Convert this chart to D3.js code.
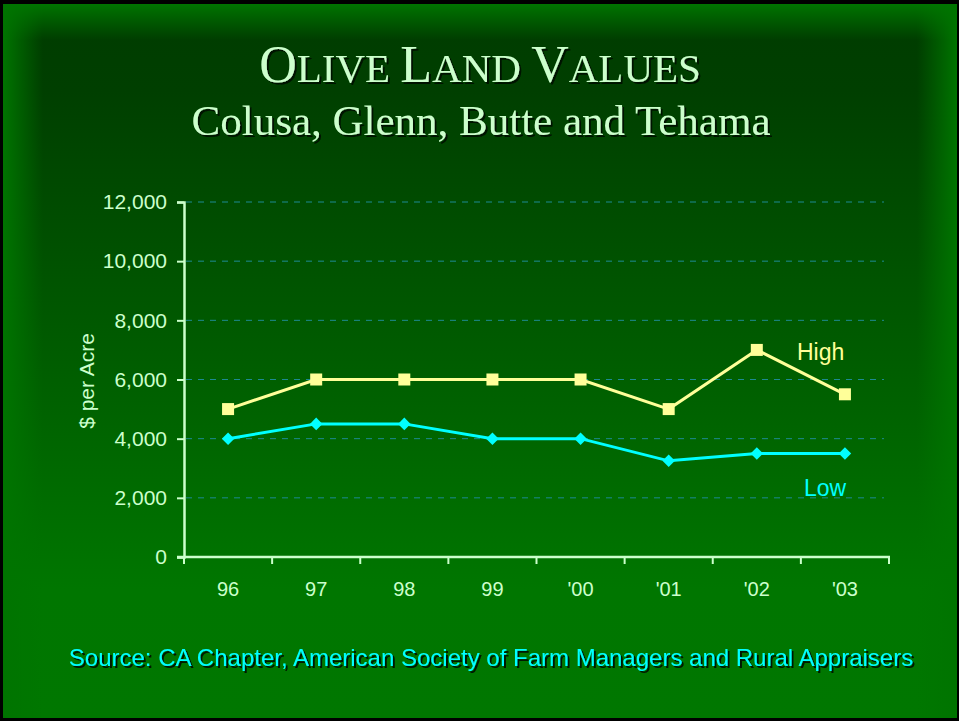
<!DOCTYPE html>
<html>
<head>
<meta charset="utf-8">
<script src="https://cdn.jsdelivr.net/npm/d3@7/dist/d3.min.js"></script>
<style>
  html, body { margin: 0; padding: 0; background: #000; }
  svg { display: block; }
</style>
</head>
<body>
<div id="graph-holder"></div>
<script>
const years = ['96', '97', '98', '99', "'00", "'01", "'02", "'03"];
const highValues = [5000, 6000, 6000, 6000, 6000, 5000, 7000, 5500];
const lowValues = [4000, 4500, 4500, 4000, 4000, 3250, 3500, 3500];
const yTicks = [0, 2000, 4000, 6000, 8000, 10000, 12000];

const svgWidth = 959,
      svgHeight = 721;

const svg = d3.select('#graph-holder')
              .append('svg')
              .attr('width', svgWidth)
              .attr('height', svgHeight);

const defs = svg.append('defs');

// background gradient, dark at the top, brighter green below
const bg = defs.append('linearGradient')
  .attr('id', 'bg').attr('x1', 0).attr('y1', 0).attr('x2', 0).attr('y2', 1);
bg.append('stop').attr('offset', '0%').attr('stop-color', '#003c00');
bg.append('stop').attr('offset', '12%').attr('stop-color', '#003f00');
bg.append('stop').attr('offset', '82%').attr('stop-color', '#007600');
bg.append('stop').attr('offset', '100%').attr('stop-color', '#007700');

function edgeGrad(id, x1, y1, x2, y2) {
  const g = defs.append('linearGradient').attr('id', id)
    .attr('x1', x1).attr('y1', y1).attr('x2', x2).attr('y2', y2);
  g.append('stop').attr('offset', '0%').attr('stop-color', '#007400').attr('stop-opacity', 1);
  g.append('stop').attr('offset', '100%').attr('stop-color', '#007400').attr('stop-opacity', 0);
}
edgeGrad('edgeL', 0, 0, 1, 0);
edgeGrad('edgeR', 1, 0, 0, 0);
edgeGrad('edgeT', 0, 0, 0, 1);

const shadow = defs.append('filter').attr('id', 'shadow')
  .attr('x', '-5%').attr('y', '-20%').attr('width', '110%').attr('height', '140%');
shadow.append('feDropShadow')
  .attr('dx', 2).attr('dy', 2).attr('stdDeviation', 0.4)
  .attr('flood-color', '#001000').attr('flood-opacity', 0.9);

svg.append('rect').attr('width', svgWidth).attr('height', svgHeight).attr('fill', '#000');
svg.append('rect').attr('x', 3).attr('y', 4).attr('width', 954).attr('height', 714).attr('fill', 'url(#bg)');
svg.append('rect').attr('x', 3).attr('y', 4).attr('width', 40).attr('height', 714).attr('fill', 'url(#edgeL)');
svg.append('rect').attr('x', 917).attr('y', 4).attr('width', 40).attr('height', 714).attr('fill', 'url(#edgeR)');
svg.append('rect').attr('x', 3).attr('y', 4).attr('width', 954).attr('height', 36).attr('fill', 'url(#edgeT)');

// Titles
const title = svg.append('text')
  .attr('x', 480).attr('y', 82)
  .attr('text-anchor', 'middle')
  .attr('font-family', '"Liberation Serif", "Times New Roman", serif')
  .attr('fill', '#ccffcc')
  .attr('filter', 'url(#shadow)');
[['O', 52], ['LIVE ', 41], ['L', 52], ['AND ', 41], ['V', 52], ['ALUES', 41]].forEach(p => {
  title.append('tspan').attr('font-size', p[1]).text(p[0]);
});

svg.append('text')
  .attr('x', 481).attr('y', 135)
  .attr('text-anchor', 'middle')
  .attr('font-family', '"Liberation Serif", "Times New Roman", serif')
  .attr('font-size', 43)
  .attr('fill', '#ccffcc')
  .attr('filter', 'url(#shadow)')
  .text('Colusa, Glenn, Butte and Tehama');

// Chart
const plotLeft = 184, plotRight = 889, plotTop = 202, plotBottom = 557;

const x = d3.scaleBand()
            .domain(years)
            .range([plotLeft, plotRight]);

const y = d3.scaleLinear()
            .domain([0, 12000])
            .range([plotBottom, plotTop]);

const axisColor = '#ccffcc';
const font = '"Liberation Sans", Arial, sans-serif';

// grid lines
svg.append('g')
  .selectAll('line')
  .data(yTicks.filter(d => d > 0))
  .enter()
  .append('line')
  .attr('x1', plotLeft + 2)
  .attr('x2', 884)
  .attr('y1', d => y(d))
  .attr('y2', d => y(d))
  .attr('stroke', '#1d8a92')
  .attr('stroke-width', 1)
  .attr('stroke-dasharray', '6,6');

// y axis
const yAxis = d3.axisLeft(y)
                .tickValues(yTicks)
                .tickSize(7)
                .tickPadding(10)
                .tickFormat(d3.format(','));

const yG = svg.append('g')
  .attr('transform', `translate(${plotLeft},0)`)
  .call(yAxis);
yG.select('.domain').attr('stroke', axisColor).attr('stroke-width', 2.5);
yG.selectAll('.tick line').attr('stroke', axisColor).attr('stroke-width', 2);
yG.selectAll('.tick text')
  .attr('fill', axisColor)
  .attr('font-family', font)
  .attr('font-size', 21);

// x axis: ticks at band boundaries
const boundaries = years.map(d => x(d)).concat([plotRight]);
svg.append('g')
  .selectAll('line')
  .data(boundaries)
  .enter()
  .append('line')
  .attr('x1', d => d).attr('x2', d => d)
  .attr('y1', plotBottom).attr('y2', plotBottom + 7)
  .attr('stroke', axisColor).attr('stroke-width', 2);

svg.append('line')
  .attr('x1', plotLeft - 7).attr('x2', plotRight + 1)
  .attr('y1', plotBottom).attr('y2', plotBottom)
  .attr('stroke', axisColor).attr('stroke-width', 2.5);

svg.append('g')
  .selectAll('text')
  .data(years)
  .enter()
  .append('text')
  .attr('x', d => x(d) + x.bandwidth() / 2)
  .attr('y', 596)
  .attr('text-anchor', 'middle')
  .attr('fill', axisColor)
  .attr('font-family', font)
  .attr('font-size', 20)
  .text(d => d);

svg.append('text')
  .attr('transform', 'translate(94,381) rotate(-90)')
  .attr('text-anchor', 'middle')
  .attr('fill', axisColor)
  .attr('font-family', font)
  .attr('font-size', 21)
  .text('$ per Acre');

// series
const cx = (d, i) => x(years[i]) + x.bandwidth() / 2;
const line = d3.line().x(cx).y(d => y(d));

const highColor = '#ffff99', lowColor = '#00ffff';

svg.append('path')
  .datum(lowValues)
  .attr('d', line)
  .attr('fill', 'none')
  .attr('stroke', lowColor)
  .attr('stroke-width', 3);

svg.append('g')
  .selectAll('path')
  .data(lowValues)
  .enter()
  .append('path')
  .attr('d', d3.symbol().type(d3.symbolDiamond2).size(100))
  .attr('transform', (d, i) => `translate(${cx(d, i)},${y(d)})`)
  .attr('fill', lowColor);

svg.append('path')
  .datum(highValues)
  .attr('d', line)
  .attr('fill', 'none')
  .attr('stroke', highColor)
  .attr('stroke-width', 3);

svg.append('g')
  .selectAll('rect')
  .data(highValues)
  .enter()
  .append('rect')
  .attr('x', (d, i) => cx(d, i) - 6)
  .attr('y', d => y(d) - 6)
  .attr('width', 12)
  .attr('height', 12)
  .attr('fill', highColor);

svg.append('text')
  .attr('x', 797).attr('y', 360)
  .attr('fill', highColor)
  .attr('font-family', font)
  .attr('font-size', 23)
  .text('High');

svg.append('text')
  .attr('x', 804).attr('y', 496)
  .attr('fill', lowColor)
  .attr('font-family', font)
  .attr('font-size', 23)
  .text('Low');

// source
svg.append('text')
  .attr('x', 491).attr('y', 666)
  .attr('text-anchor', 'middle')
  .attr('fill', '#00ffff')
  .attr('font-family', font)
  .attr('font-size', 24)
  .attr('filter', 'url(#shadow)')
  .text('Source: CA Chapter, American Society of Farm Managers and Rural Appraisers');
</script>
</body>
</html>
